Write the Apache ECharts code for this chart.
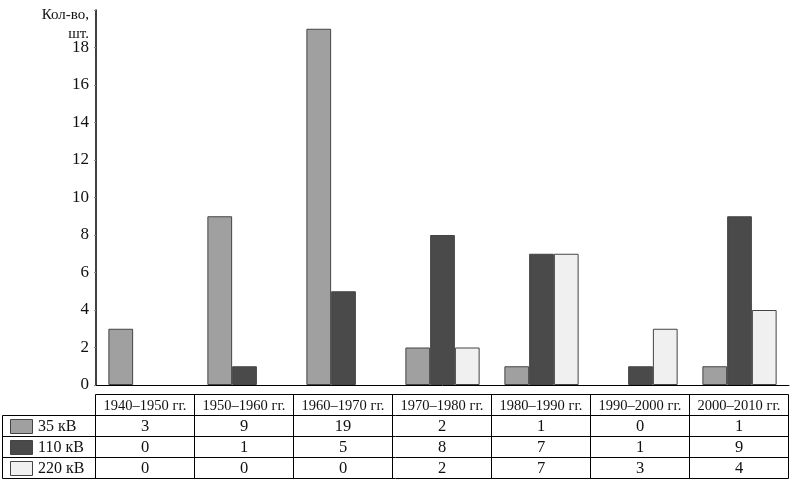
<!DOCTYPE html>
<html><head><meta charset="utf-8">
<script src="https://cdn.jsdelivr.net/npm/echarts@6/dist/echarts.min.js"></script>
<style>html,body{margin:0;padding:0;background:#fff}#c{width:797px;height:490px}</style>
</head><body><div id="c"></div>
<script>
const categories = ['1940–1950 гг.', '1950–1960 гг.', '1960–1970 гг.', '1970–1980 гг.', '1980–1990 гг.', '1990–2000 гг.', '2000–2010 гг.'];
const seriesNames = ['35 кВ', '110 кВ', '220 кВ'];
const values35 = [3, 9, 19, 2, 1, 0, 1];
const values110 = [0, 1, 5, 8, 7, 1, 9];
const values220 = [0, 0, 0, 2, 7, 3, 4];
const yAxisTitle = ['Кол-во,', 'шт.'];
const yMax = 20, yStep = 2;

const allValues = [values35, values110, values220];
const colors = ['#a0a0a0', '#4a4a4a', '#f0f0f0'];
const FONT = '"Liberation Serif", "DejaVu Serif", serif';

const chart = echarts.init(document.getElementById('c'), null, {renderer: 'canvas'});
const grid = {left: 96, right: 8, top: 10, bottom: 105};
chart.setOption({
  animation: false,
  backgroundColor: '#fff',
  grid: grid,
  xAxis: {
    type: 'category', data: categories,
    axisLine: {show: true, lineStyle: {color: '#000', width: 1}},
    axisTick: {show: false}, axisLabel: {show: false}, splitLine: {show: false}
  },
  yAxis: {
    type: 'value', min: 0, max: yMax, interval: yStep,
    axisLine: {show: true, lineStyle: {color: '#000', width: 1.5}},
    axisTick: {show: true, length: 2, lineStyle: {color: '#888'}},
    splitLine: {show: false},
    axisLabel: {
      margin: 7, color: '#111', fontFamily: FONT, fontSize: 17,
      formatter: v => (v >= yMax ? '' : String(v))
    }
  },
  series: seriesNames.map((n, k) => ({
    name: n, type: 'bar',
    data: allValues[k].map(v => (v === 0 ? {value: v, itemStyle: {borderWidth: 0}} : v)),
    barGap: '0%', barCategoryGap: '25%',
    itemStyle: {color: colors[k], borderColor: '#444', borderWidth: 1}
  }))
});

function buildTable() {
  const g = [];
  const c0 = chart.convertToPixel({xAxisIndex: 0}, 0);
  const c1 = chart.convertToPixel({xAxisIndex: 0}, 1);
  const band = c1 - c0;
  const axisY = 490 - grid.bottom;
  const tableTop = axisY + 9.5;
  const rowH = 21;
  const leftX = 2.5;
  const bounds = [];
  for (let i = 0; i <= categories.length; i++) {
    const x = c0 + (i - 0.5) * band;
    bounds.push(Math.round(x) - 0.5);
  }
  const colLeft = bounds[0];
  const rightX = bounds[bounds.length - 1];
  const line = (x1, y1, x2, y2) => g.push({type: 'line', shape: {x1, y1, x2, y2}, style: {stroke: '#000', lineWidth: 1}, z: 10});
  const text = (t, x, y, size, align) => g.push({type: 'text', z: 11, style: {text: t, x, y, textAlign: align || 'center', textVerticalAlign: 'middle', font: size + 'px ' + FONT, fill: '#111'}});
  line(colLeft, tableTop, rightX, tableTop);
  for (let r = 1; r <= 4; r++) line(leftX, tableTop + r * rowH, rightX, tableTop + r * rowH);
  bounds.forEach(x => line(x, tableTop, x, tableTop + 4 * rowH));
  line(leftX, tableTop + rowH, leftX, tableTop + 4 * rowH);
  categories.forEach((cat, i) => text(cat, (bounds[i] + bounds[i + 1]) / 2, tableTop + rowH / 2 + 1, 14.5));
  seriesNames.forEach((n, k) => {
    const yc = tableTop + (k + 1.5) * rowH + 1;
    g.push({type: 'rect', z: 10, shape: {x: 10.5, y: Math.round(yc - 8) + 0.5, width: 22, height: 14}, style: {fill: colors[k], stroke: '#444', lineWidth: 1}});
    text(n, 38, yc, 16, 'left');
    allValues[k].forEach((v, i) => text(String(v), (bounds[i] + bounds[i + 1]) / 2, yc, 16.5));
  });
  text(yAxisTitle[0], grid.left - 7, 15, 15, 'right');
  text(yAxisTitle[1], grid.left - 7, 34, 15, 'right');
  chart.setOption({graphic: g});
}
buildTable();
</script>
</body></html>
